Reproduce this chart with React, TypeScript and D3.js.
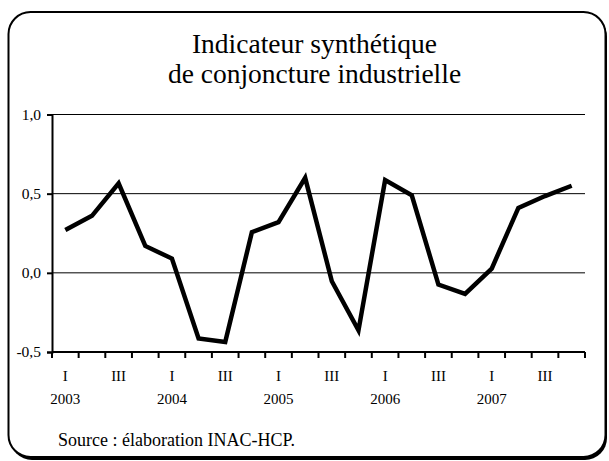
import { useEffect, useRef } from 'react'
import * as d3 from 'd3'

// quarterly values 2003 Q1 .. 2007 Q4
const quarters = [
  'I', 'II', 'III', 'IV',
  'I', 'II', 'III', 'IV',
  'I', 'II', 'III', 'IV',
  'I', 'II', 'III', 'IV',
  'I', 'II', 'III', 'IV',
]
const years = ['2003', '2004', '2005', '2006', '2007']
const values = [
  0.27, 0.36, 0.565, 0.17, 0.09,
  -0.415, -0.437, 0.257, 0.32, 0.6,
  -0.053, -0.363, 0.586, 0.49, -0.074,
  -0.133, 0.027, 0.41, 0.485, 0.55,
]
const yTicks = [-0.5, 0, 0.5, 1.0]
const shownQuarters = ['I', 'III']

const titleLines = ['Indicateur synthétique', 'de conjoncture industrielle']
const source = 'Source : élaboration INAC-HCP.'

export default function App() {
  const ref = useRef<SVGSVGElement>(null)

  useEffect(() => {
    const svg = d3.select(ref.current)
    svg.selectAll('*').remove()

    const font = 'Liberation Serif, Times New Roman, serif'
    const left = 52
    const right = 585
    const top = 114.5
    const bottom = 352

    // frame with shadow
    svg.append('rect')
      .attr('x', 10).attr('y', 15).attr('width', 597).attr('height', 445)
      .attr('rx', 22).attr('fill', '#000')
    svg.append('rect')
      .attr('x', 8.5).attr('y', 12).attr('width', 597).attr('height', 445)
      .attr('rx', 22).attr('fill', '#fff').attr('stroke', '#000').attr('stroke-width', 2)

    const x = d3.scaleBand<number>()
      .domain(d3.range(values.length))
      .range([left, right])
    const y = d3.scaleLinear().domain([-0.5, 1.0]).range([bottom, top])

    // title
    svg.append('g')
      .selectAll('text')
      .data(titleLines)
      .enter()
      .append('text')
      .attr('x', 314.5)
      .attr('y', (d, i) => 53 + i * 30)
      .attr('text-anchor', 'middle')
      .attr('font-family', font)
      .attr('font-size', 27.5)
      .text((d) => d)

    // gridlines
    svg.append('g')
      .selectAll('line')
      .data(yTicks.filter((t) => t > -0.5))
      .enter()
      .append('line')
      .attr('x1', left).attr('x2', right)
      .attr('y1', (d) => y(d)).attr('y2', (d) => y(d))
      .attr('stroke', '#000').attr('stroke-width', 1)

    // y axis
    const fmt = (d: number) => d3.format('.1f')(d).replace('.', ',').replace('−', '-')
    const yAxis = svg.append('g')
      .attr('transform', `translate(${left},0)`)
      .call(d3.axisLeft(y).tickValues(yTicks).tickSize(5).tickPadding(6).tickFormat(fmt as any))
    yAxis.attr('font-family', font).attr('font-size', 15.5)
    yAxis.select('.domain').attr('stroke-width', 2)
    yAxis.selectAll('.tick line').attr('stroke-width', 2)
    yAxis.selectAll('.tick text').attr('fill', '#000')

    // x axis: ticks between quarters
    const xg = svg.append('g').attr('font-family', font).attr('font-size', 15)
    xg.append('line')
      .attr('x1', left).attr('x2', right).attr('y1', bottom).attr('y2', bottom)
      .attr('stroke', '#000').attr('stroke-width', 2)
    xg.selectAll('.xt')
      .data(d3.range(values.length + 1))
      .enter()
      .append('line')
      .attr('class', 'xt')
      .attr('x1', (d) => left + d * x.step())
      .attr('x2', (d) => left + d * x.step())
      .attr('y1', bottom).attr('y2', bottom + 6)
      .attr('stroke', '#000').attr('stroke-width', 2)

    xg.selectAll('.ql')
      .data(quarters.map((q, i) => ({ q, i })).filter((d) => shownQuarters.includes(d.q)))
      .enter()
      .append('text')
      .attr('class', 'ql')
      .attr('x', (d) => x(d.i)! + x.bandwidth() / 2)
      .attr('y', 381)
      .attr('text-anchor', 'middle')
      .text((d) => d.q)

    xg.selectAll('.yl')
      .data(years)
      .enter()
      .append('text')
      .attr('class', 'yl')
      .attr('x', (d, i) => x(i * 4)! + x.bandwidth() / 2)
      .attr('y', 403.5)
      .attr('text-anchor', 'middle')
      .text((d) => d)

    // series
    const line = d3.line<number>()
      .x((d, i) => x(i)! + x.bandwidth() / 2)
      .y((d) => y(d))
    svg.append('path')
      .datum(values)
      .attr('d', line)
      .attr('fill', 'none')
      .attr('stroke', '#000')
      .attr('stroke-width', 4.5)
      .attr('stroke-linejoin', 'miter')

    // source
    svg.append('text')
      .attr('x', 58).attr('y', 446)
      .attr('font-family', font).attr('font-size', 18)
      .text(source)
  }, [])

  return (
    <svg
      ref={ref}
      width={609}
      height={461}
      style={{ position: 'absolute', left: 0, top: 0, background: '#fff' }}
    />
  )
}
